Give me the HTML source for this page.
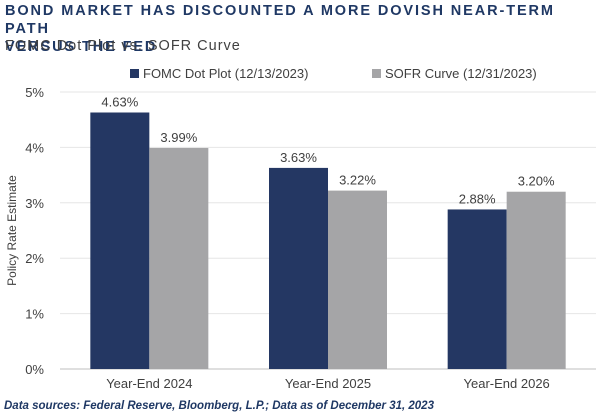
<!DOCTYPE html>
<html><head><meta charset="utf-8"><style>
body{margin:0;width:600px;height:417px;background:#fff;font-family:"Liberation Sans",sans-serif;overflow:hidden;position:relative}
.t{position:absolute;left:5px;color:#1f3864;font-weight:bold;font-size:14.5px;letter-spacing:1.9px;line-height:18px}
.s{position:absolute;left:5px;top:38px;color:#404040;font-size:14.5px;letter-spacing:1px}
.f{position:absolute;left:4px;top:400px;color:#1f3864;font-weight:bold;font-style:italic;font-size:11.5px}
</style></head><body>
<div class="t" style="top:2px">BOND MARKET HAS DISCOUNTED A MORE DOVISH NEAR-TERM PATH<br>VERSUS THE FED</div>
<div class="s">FOMC Dot Plot vs. SOFR Curve</div>
<svg id="c" width="600" height="417" style="position:absolute;left:0;top:0"></svg>
<div class="f">Data sources: <span style="font-weight:bold">Federal Reserve, Bloomberg, L.P.; Data as of December 31, 2023</span></div>
<script>
const categories=["Year-End 2024","Year-End 2025","Year-End 2026"];
const fomc=[4.63,3.63,2.88];
const sofr=[3.99,3.22,3.20];
const ticks=[0,1,2,3,4,5];
const seriesNames=["FOMC Dot Plot (12/13/2023)","SOFR Curve (12/31/2023)"];
const colors=["#243763","#a5a5a7"];
const svg=document.getElementById('c');
const NS="http://www.w3.org/2000/svg";
const x0=60,x1=596,yb=369,yt=92,ymax=5;
const y=v=>yb-(v/ymax)*(yb-yt);
const band=(x1-x0)/categories.length;
const bw=59;
function mk(t,a,txt){const e=document.createElementNS(NS,t);for(const k in a)e.setAttribute(k,a[k]);if(txt!==undefined)e.textContent=txt;svg.appendChild(e);return e;}
ticks.forEach(t=>{
 const g=mk('line',{x1:x0,x2:x1,y1:y(t),y2:y(t),stroke:t===0?'#bfbfbf':'#e6e6e6','stroke-width':1});
 
 
 const l=mk('text',{x:44,y:y(t)+5,'text-anchor':'end','font-size':13,fill:'#404040','font-family':'Liberation Sans'},t+'%');
 
 
});
const yt2=mk('text',{x:0,y:0,transform:`translate(16,${(yb+yt)/2}) rotate(-90)`,'text-anchor':'middle','font-size':12,fill:'#404040','font-family':'Liberation Sans'},'Policy Rate Estimate');


categories.forEach((c,i)=>{
 const cx=x0+band*(i+0.5);
 [fomc[i],sofr[i]].forEach((v,j)=>{
  const bx=cx-bw+j*bw;
  const r=mk('rect',{x:bx,y:y(v),width:bw,height:yb-y(v),fill:colors[j]});
  
  
  const t=mk('text',{x:bx+bw/2,y:y(v)-6,'text-anchor':'middle','font-size':13,fill:'#404040','font-family':'Liberation Sans'},v.toFixed(2)+'%');
  
  
 });
 const cl=mk('text',{x:cx,y:yb+19,'text-anchor':'middle','font-size':13,fill:'#404040','font-family':'Liberation Sans'},c);
 
 
});
const lx=[130,372];
seriesNames.forEach((n,j)=>{
 const s=mk('rect',{x:lx[j],y:69,width:9,height:9,fill:colors[j]});
 
 
 const t=mk('text',{x:lx[j]+13,y:78,'font-size':13,fill:'#404040','font-family':'Liberation Sans'},n);
 
 
});
</script>
</body></html>
